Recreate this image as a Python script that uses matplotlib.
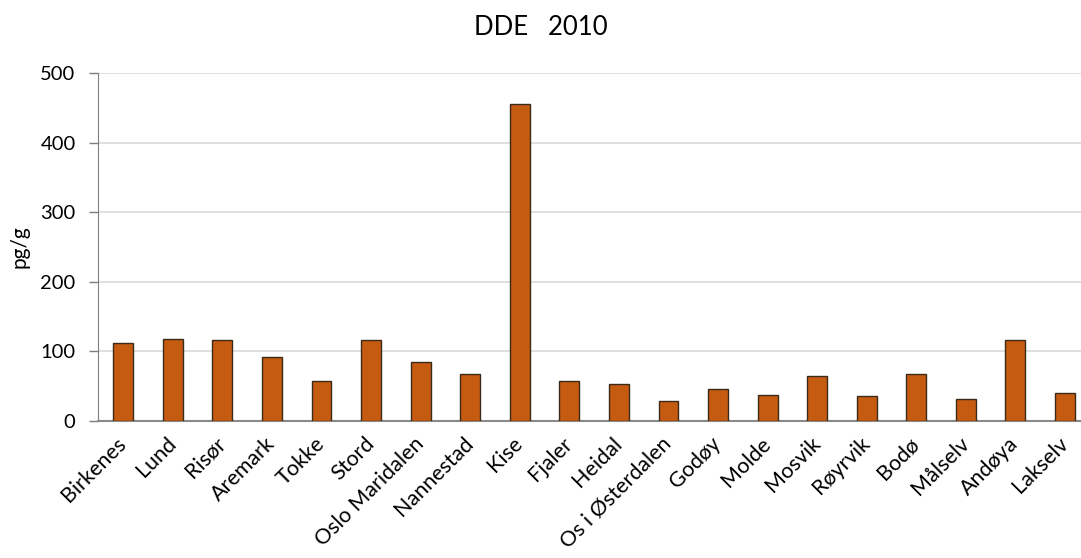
import numpy as np
import matplotlib.pyplot as plt

plt.rcParams['font.family'] = ['Lato', 'DejaVu Sans']

# --- Data (pg/g)
stasjoner = ['Birkenes', 'Lund', 'Risør', 'Aremark', 'Tokke', 'Stord',
             'Oslo Maridalen', 'Nannestad', 'Kise', 'Fjaler', 'Heidal',
             'Os i Østerdalen', 'Godøy', 'Molde', 'Mosvik', 'Røyrvik',
             'Bodø', 'Målselv', 'Andøya', 'Lakselv']
dde = [112, 118, 117, 92, 57, 116, 85, 68, 455, 58, 53,
       29, 46, 38, 64, 36, 67, 32, 116, 40]
yticks = [0, 100, 200, 300, 400, 500]

fig = plt.figure(figsize=(10.81, 5.58), dpi=100)
ax = fig.add_axes([0.0911, 0.2455, 0.917, 0.6235])

x = np.arange(len(stasjoner))
ax.bar(x, dde, width=0.4, color='#C55A11', edgecolor='#3a2a1a', linewidth=1.0, zorder=3)

ax.set_xlim(-0.5, len(stasjoner) - 0.5)
ax.set_ylim(0, 500)
ax.set_yticks(yticks)
ax.yaxis.grid(True, color='#D9D9D9', linewidth=1.2, zorder=0)
ax.set_axisbelow(True)

ax.set_xticks(x)
ax.set_xticklabels(stasjoner, rotation=45, ha='right', va='center',
                   rotation_mode='anchor', fontsize=15.5)
ax.tick_params(axis='x', length=0, pad=14)
ax.tick_params(axis='y', labelsize=14.5, length=6.5, color='#7f7f7f', width=1,
               direction='out', pad=10)

for s in ['top', 'right']:
    ax.spines[s].set_visible(False)
ax.spines['left'].set_color('#7f7f7f')
ax.spines['bottom'].set_color('#8a8a8a')
ax.spines['bottom'].set_linewidth(1.5)

ax.set_ylabel('pg/g', fontsize=15, labelpad=8)
fig.text(0.5, 0.95, 'DDE   2010', ha='center', va='center', fontsize=18.5)

fig.savefig('out.png', dpi=100)
